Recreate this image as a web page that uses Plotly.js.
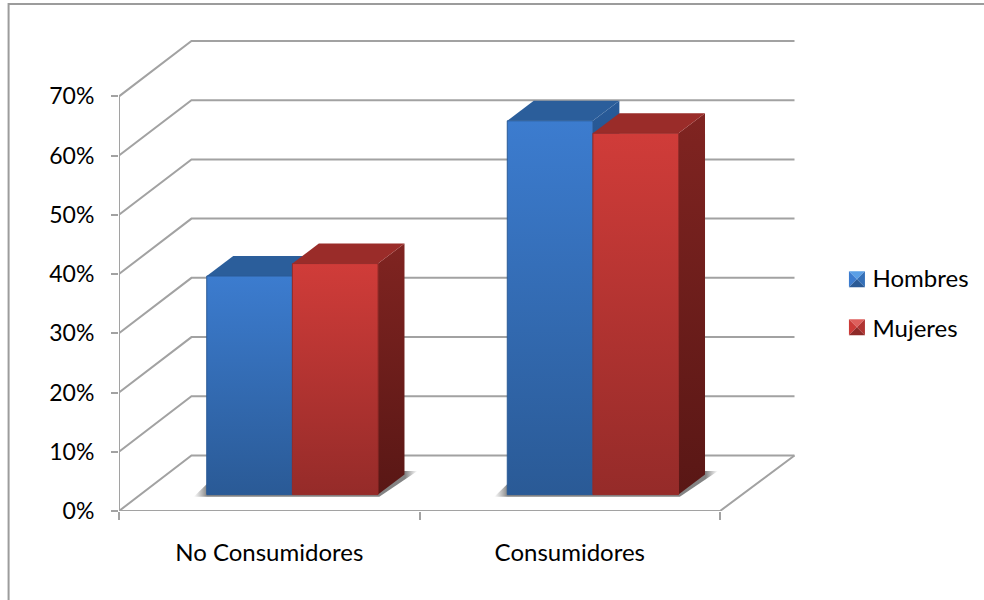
<!DOCTYPE html>
<html>
<head>
<meta charset="utf-8">
<script src="https://cdn.plot.ly/plotly-3.0.1.min.js"></script>
<style>html,body{margin:0;padding:0;background:#fff}#chart{width:984px;height:600px}</style>
</head>
<body>
<div id="chart"></div>
<script>
// Survey shares by group and sex
const categories = ['No Consumidores', 'Consumidores'];
const seriesNames = ['Hombres', 'Mujeres'];
const hombres = [36.9, 63.1];
const mujeres = [39.0, 61.0];
const yTickValues = [0, 10, 20, 30, 40, 50, 60, 70];
const yTickLabels = ['0%', '10%', '20%', '30%', '40%', '50%', '60%', '70%'];

// Colours of each bar face
const frontColours = [['#2a5a96', '#3c7ccf'], ['#952b29', '#d03c39']];
const topColours = ['#2b5e9b', '#9a2c29'];
const sideColours = [['#1f4674', '#285a98'], ['#591715', '#802421']];
const swatchColours = [
  {up: '#5a9fe6', left: '#3c7ccf', right: '#3570b8', down: '#2a5a96'},
  {up: '#de5f5c', left: '#cc3b38', right: '#b03432', down: '#8e2a28'}
];
const gridColour = '#a2a2a2';

// Projection of the pseudo-3D box, in axis units
const W = 984, H = 600;
const plotL = 118.5, plotR = 800, plotT = 30, plotB = 510.7;
const catPx = 300.75, pctPx = 5.92;
const wallDx = 72.5 / catPx, wallDy = 55.4 / pctPx;
const wallRightDx = 74.5 / catPx;
const barWidth = 85.7 / catPx;
const barShiftX = 0.0769, barBaseY = 16.4 / pctPx;
const barDx = 26.5 / catPx, barDy = 20 / pctPx;
const xMin = -0.5, xMax = xMin + (plotR - plotL) / catPx;
const yMax = (plotB - plotT) / pctPx;
const xEnd = xMin + categories.length;

const traces = [];
const base = {type: 'scatter', mode: 'lines', hoverinfo: 'skip', showlegend: false, cliponaxis: false};

// Wall and floor lines
const gx = [], gy = [];
function seg(pts) { pts.forEach(p => { gx.push(p[0]); gy.push(p[1]); }); gx.push(null); gy.push(null); }
yTickValues.forEach(v => {
  seg([[xMin, v], [xMin + wallDx, v + wallDy], [xEnd + wallRightDx, v + wallDy]]);
});
seg([[xMin, 0], [xEnd, 0], [xEnd + wallRightDx, wallDy]]);
seg([[xMin, 0], [xMin, yTickValues[yTickValues.length - 1]]]);
traces.push({...base, x: gx, y: gy, line: {color: gridColour, width: 2}});

function poly(pts, fill, extra) {
  const t = {...base, x: pts.map(p => p[0]).concat(pts[0][0]), y: pts.map(p => p[1]).concat(pts[0][1]),
    fill: 'toself', line: {width: 0, color: 'rgba(0,0,0,0)'}, ...extra};
  if (Array.isArray(fill)) {
    t.fillcolor = fill[1];
    t.fillgradient = {type: 'vertical', colorscale: [[0, fill[0]], [1, fill[1]]]};
  } else {
    t.fillcolor = fill;
  }
  return t;
}

// Soft shadow lying on the floor behind each pair of bars
categories.forEach((c, i) => {
  const x0 = i + barShiftX - barWidth, x1 = i + barShiftX + barWidth;
  const b = barBaseY;
  const sx = 13 / catPx;
  const pts = [[x0 - sx, b - 0.35], [x0 + barDx - sx, b + barDy + 0.6], [x1 + barDx + sx, b + barDy + 0.6], [x1 + sx * 0.1, b - 0.35]];
  const s = poly(pts, 'rgba(120,120,120,0.6)');
  s.fillgradient = {type: 'horizontal', colorscale: [
    [0, 'rgba(130,130,130,0)'], [0.06, 'rgba(110,110,110,0.85)'], [0.945, 'rgba(110,110,110,0.85)'], [1, 'rgba(130,130,130,0)']]};
  traces.push(s);
});

// Bars: side, top and front faces derived from each value
[hombres, mujeres].forEach((vals, s) => {
  vals.forEach((v, i) => {
    const x0 = i + barShiftX - barWidth + s * barWidth, x1 = x0 + barWidth;
    const b = barBaseY, t = barBaseY + v;
    traces.push(poly([[x1, b], [x1 + barDx, b + barDy], [x1 + barDx, t + barDy], [x1, t]], sideColours[s]));
    traces.push(poly([[x0, t], [x1, t], [x1 + barDx, t + barDy], [x0 + barDx, t + barDy]], topColours[s]));
    traces.push(poly([[x0, b], [x1, b], [x1, t], [x0, t]], frontColours[s],
      {line: {width: 1, color: frontColours[s][0]}}));
  });
});

// Legend entries; their bevelled swatches are drawn as shapes beneath the legend
seriesNames.forEach((name, s) => {
  traces.push({type: 'scatter', mode: 'lines', x: [null], y: [null], name: name,
    legendgroup: name, hoverinfo: 'skip', line: {width: 0, color: 'rgba(0,0,0,0)'}});
});

const px = x => (x - plotL) / (plotR - plotL);
const py = y => (plotB - y) / (plotB - plotT);
function tri(a, b, c, colour) {
  const pt = p => px(p[0]) + ' ' + py(p[1]);
  return {type: 'path', xref: 'paper', yref: 'paper', layer: 'above', line: {width: 0},
    fillcolor: colour, path: 'M' + pt(a) + ' L' + pt(b) + ' L' + pt(c) + ' Z'};
}
const shapes = [];
[279, 327].forEach((cy, s) => {
  const c = swatchColours[s], l = 849, r = 865, t = cy - 8, b = cy + 8, mx = 857;
  shapes.push(tri([l, t], [r, t], [mx, cy], c.up));
  shapes.push(tri([l, t], [l, b], [mx, cy], c.left));
  shapes.push(tri([r, t], [r, b], [mx, cy], c.right));
  shapes.push(tri([l, b], [r, b], [mx, cy], c.down));
});
// Frame around the chart area, running off the right and bottom of the page
shapes.push({type: 'path', xref: 'paper', yref: 'paper', layer: 'below',
  line: {color: '#9c9c9c', width: 2},
  path: 'M' + px(8) + ' ' + py(H + 5) + ' L' + px(8) + ' ' + py(4) + ' L' + px(W + 5) + ' ' + py(4)});

const font = {family: 'Lato, sans-serif', size: 24, color: '#000'};
const valueFont = {family: 'Lato, sans-serif', size: 23, color: '#000'};
const layout = {
  width: W, height: H,
  paper_bgcolor: '#fff', plot_bgcolor: 'rgba(0,0,0,0)',
  margin: {l: plotL, r: W - plotR, t: plotT, b: H - plotB, pad: 0, autoexpand: false},
  font: font,
  showlegend: true,
  xaxis: {
    range: [xMin, xMax], showgrid: false, zeroline: false, showline: false, fixedrange: true,
    tickmode: 'array', tickvals: [0, 1], ticktext: categories, ticks: '', ticklabelstandoff: 25,
    tickfont: font,
    minor: {tickmode: 'array', tickvals: [-0.5, 0.5, 1.5], ticks: 'outside', ticklen: 8, tickwidth: 2, tickcolor: gridColour, showgrid: false}
  },
  yaxis: {
    range: [0, yMax], showgrid: false, zeroline: false, showline: false, fixedrange: true,
    tickmode: 'array', tickvals: yTickValues, ticktext: yTickLabels,
    ticks: 'outside', ticklen: 7, tickwidth: 2, tickcolor: gridColour, ticklabelstandoff: 12,
    tickfont: valueFont
  },
  legend: {
    x: px(832.5), xanchor: 'left', y: py(303), yanchor: 'middle',
    bgcolor: 'rgba(0,0,0,0)', borderwidth: 0, font: font,
    traceorder: 'grouped', tracegroupgap: 16, itemclick: false, itemdoubleclick: false
  },
  shapes: shapes
};

Plotly.newPlot('chart', traces, layout, {displayModeBar: false, staticPlot: true});
</script>
</body>
</html>
